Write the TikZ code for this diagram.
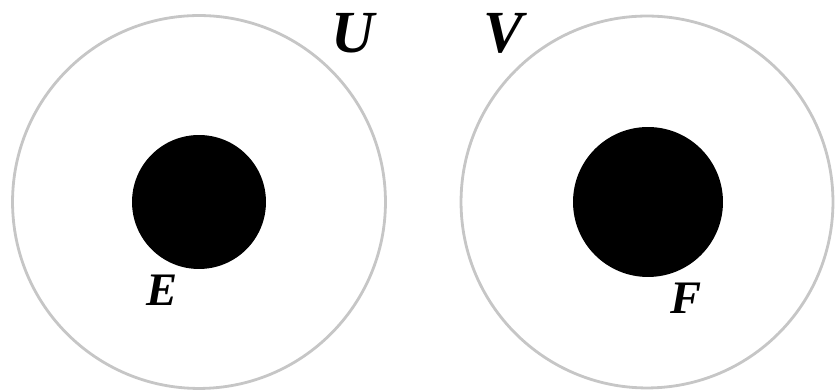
\documentclass[tikz,border=0pt]{standalone}
\usepackage{fontspec}
\setmainfont{Liberation Serif}
\usetikzlibrary{positioning}
\definecolor{cring}{HTML}{C6C6C6}
\tikzset{
  every picture/.style={x=0.02cm, y=0.02cm},
  ring/.style={circle, draw=cring, line width=1.6pt, minimum size=#1, inner sep=0pt},
  blob/.style={circle, fill=black, minimum size=#1, inner sep=0pt},
  setname/.style={font=\fontsize{34}{36}\selectfont\bfseries\itshape, inner sep=0pt},
  ptname/.style={font=\fontsize{26.5}{28}\selectfont\bfseries\itshape, inner sep=0pt},
}

\begin{document}
\begin{tikzpicture}
  \useasboundingbox (0,0) rectangle (835,391);
  % the two open sets
  \node[ring=7.46cm] (U) at (199,189) {};
  \node[ring=7.44cm] (V) at (647,189) {};
  % the two closed sets inside
  \node[blob=2.68cm] (E) at (199,189) {};
  \node[blob=3.0cm] (F) at (648,189) {};
  % labels
  \node[setname] (lu) at (353,358) {U};
  \node[setname] (lv) at (503,358) {V};
  \node[ptname] (le) at (162,101) {E};
  \node[ptname] (lf) at (686,93) {F};
\end{tikzpicture}
\end{document}
